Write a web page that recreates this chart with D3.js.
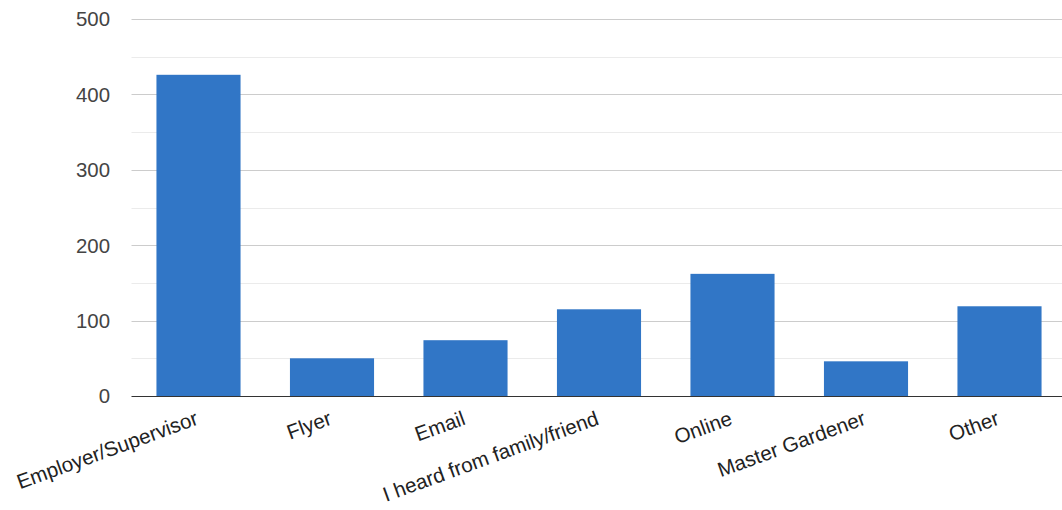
<!DOCTYPE html>
<html>
<head>
<meta charset="utf-8">
<script src="https://cdn.jsdelivr.net/npm/d3@7"></script>
<style>
  html, body { margin: 0; padding: 0; background: #fff; }
  svg { display: block; }
</style>
</head>
<body>
<svg id="chart" width="1062" height="510"></svg>
<script>
const categories = ["Employer/Supervisor", "Flyer", "Email", "I heard from family/friend", "Online", "Master Gardener", "Other"];
const values = [426, 50, 74, 115, 162, 46, 119];
const majorTicks = [0, 100, 200, 300, 400, 500];
const minorTicks = [50, 150, 250, 350, 450];

const W = 1062, H = 510;
const plotLeft = 131.75, plotRight = 1066.25, plotTop = 19, plotBottom = 396;
const svg = d3.select("#chart");

const x = d3.scaleBand().domain(categories).range([plotLeft, plotRight]).paddingInner(0.37).paddingOuter(0.185);
const y = d3.scaleLinear().domain([0, 500]).range([plotBottom, plotTop]);

// minor gridlines
svg.append("g").selectAll("line").data(minorTicks).join("line")
  .attr("x1", 131.5).attr("x2", W)
  .attr("y1", d => Math.round(y(d)) + 0.5).attr("y2", d => Math.round(y(d)) + 0.5)
  .attr("stroke", "#ebebeb").attr("stroke-width", 1);

// major gridlines
svg.append("g").selectAll("line").data(majorTicks.filter(d => d !== 0)).join("line")
  .attr("x1", 131.5).attr("x2", W)
  .attr("y1", d => Math.round(y(d)) + 0.5).attr("y2", d => Math.round(y(d)) + 0.5)
  .attr("stroke", "#cccccc").attr("stroke-width", 1);

// bars
svg.append("g").selectAll("rect").data(values).join("rect")
  .attr("x", (d, i) => x(categories[i]))
  .attr("width", x.bandwidth())
  .attr("y", d => y(d))
  .attr("height", d => y(0) - y(d))
  .attr("fill", "#3176c6");

// baseline
svg.append("line")
  .attr("x1", 131.5).attr("x2", W)
  .attr("y1", y(0) + 0.5).attr("y2", y(0) + 0.5)
  .attr("stroke", "#333333").attr("stroke-width", 1.2);

// y labels
svg.append("g").selectAll("text").data(majorTicks).join("text")
  .attr("x", 110).attr("y", d => y(d))
  .attr("dy", "0.36em")
  .attr("text-anchor", "end")
  .attr("font-family", "Liberation Sans, Arial, sans-serif")
  .attr("font-size", 20.4)
  .attr("fill", "#444444")
  .text(d => d);

// x labels
svg.append("g").selectAll("text").data(categories).join("text")
  .attr("transform", d => `translate(${x(d) + x.bandwidth() / 2 + 1},${plotBottom + 28}) rotate(-20)`)
  .attr("text-anchor", "end")
  .attr("font-family", "Liberation Sans, Arial, sans-serif")
  .attr("font-size", 20.6)
  .attr("fill", "#222222")
  .text(d => d);
</script>
</body>
</html>
